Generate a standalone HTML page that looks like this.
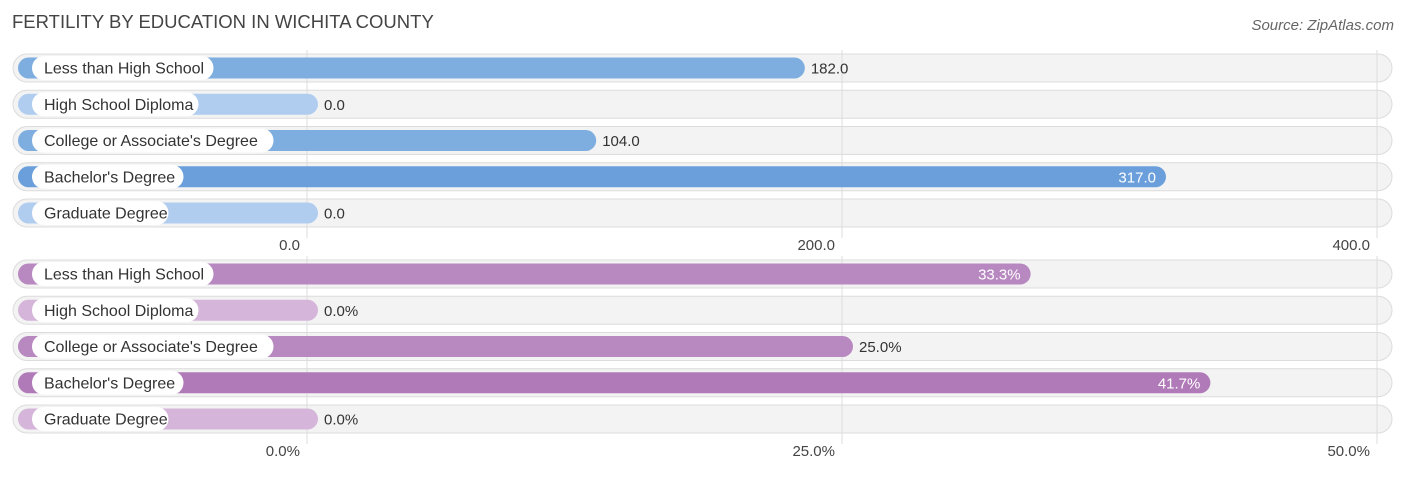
<!DOCTYPE html>
<html><head><meta charset="utf-8"><style>
body{margin:0;background:#fff;font-family:"Liberation Sans",Arial,sans-serif;}
svg text{font-family:"Liberation Sans",Arial,sans-serif;}
</style></head><body>
<svg id="c" width="1406" height="475" xmlns="http://www.w3.org/2000/svg">
<text x="12" y="28" font-size="18.5" fill="#444">FERTILITY BY EDUCATION IN WICHITA COUNTY</text>
<text x="1394" y="30" font-size="15" fill="#666" font-style="italic" text-anchor="end">Source: ZipAtlas.com</text>
</svg>
<script>
const categories=["Less than High School","High School Diploma","College or Associate's Degree","Bachelor's Degree","Graduate Degree"];
const countValues=[182.0,0.0,104.0,317.0,0.0];
const pctValues=[33.3,0.0,25.0,41.7,0.0];
const countTicks=[0,200,400];
const pctTicks=[0,25,50];
const NS="http://www.w3.org/2000/svg";
const svg=document.getElementById('c');
function mk(t,a,p){const e=document.createElementNS(NS,t);for(const k in a)e.setAttribute(k,a[k]);(p||svg).appendChild(e);return e;}
function panel(vals,ticks,y0,axisY,fmt,tfmt,full,light,dark,name){
  const x0=307,x1=1377,max=ticks[ticks.length-1];
  const sx=v=>x0+(v/max)*(x1-x0);
  const g=mk('g',{});
  
  
  const bgs=mk('g',{},g);
  const grid=mk('g',{},g);
  const fg=mk('g',{},g);
  ticks.forEach((t,i)=>{
    const l=mk('line',{x1:sx(t),x2:sx(t),y1:y0-18,y2:axisY-12,stroke:'#dcdcdc','stroke-width':1},grid);
    
    
  });
  vals.forEach((v,i)=>{
    const cy=y0+i*36.25;
    mk('rect',{x:13,y:cy-14,width:1379,height:28,rx:14,fill:'#f3f3f3',stroke:'#dcdcdc','stroke-width':1},bgs);
    const row=mk('g',{},fg);
    
    
    const end=sx(v)+11;
    const col=v===0?light:(v===Math.max(...vals)?dark:full);
    const b=mk('rect',{x:18,y:cy-10.5,width:end-18,height:21,rx:10.5,fill:col},row);
    
    
    const tw=categories[i].length*7.5+24;
    mk('rect',{x:32,y:cy-12,width:tw,height:24,rx:12,fill:'#fff'},row);
    const lt=mk('text',{x:44,y:cy+5.5,'font-size':16,fill:'#333'},row);
    lt.textContent=categories[i];
    
    
    const inside=end>900;
    const vt=mk('text',{x:inside?end-10:end+6,y:cy+5.5,'font-size':15,fill:inside?'#fff':'#333','text-anchor':inside?'end':'start'},row);
    vt.textContent=fmt(v);
    
    
  });
  ticks.forEach(t=>{
    const tt=mk('text',{x:sx(t)-7,y:axisY,'font-size':15,fill:'#444','text-anchor':'end'},g);
    tt.textContent=tfmt(t);
    
    
  });
}
panel(countValues,countTicks,68,250,v=>v.toFixed(1),t=>t.toFixed(1),'#7eaee0','#b0cdf0','#6a9fdc','count-panel');
panel(pctValues,pctTicks,274,456,v=>v.toFixed(1)+'%',t=>t.toFixed(1)+'%','#b888c0','#d5b6da','#b07ab8','percent-panel');
</script>
</body></html>
